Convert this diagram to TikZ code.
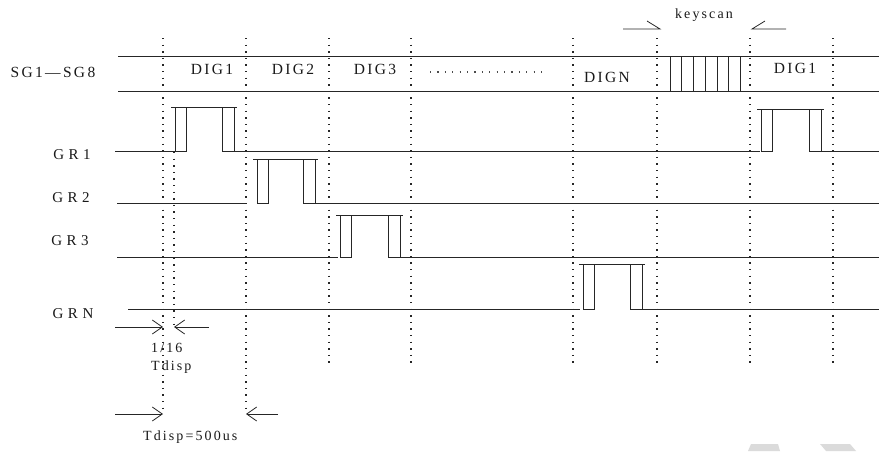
\documentclass[tikz,border=0pt]{standalone}
\usepackage{fontspec}
\setmainfont{Liberation Serif}
\usetikzlibrary{arrows.meta}
\tikzset{
  sig/.style={line width=0.9pt, draw=black!85},
  grid/.style={line width=1.4pt, draw=black!85, dash pattern=on 1.4pt off 5.2pt},
  lbl/.style={font=\fontsize{15.5}{18}\selectfont\addfontfeature{LetterSpace=15}, inner sep=0pt, text=black!90},
  grl/.style={font=\fontsize{15}{18}\selectfont\addfontfeature{LetterSpace=30}, inner sep=0pt, text=black!90},
  small/.style={font=\fontsize{14}{16}\selectfont\addfontfeature{LetterSpace=15}, inner sep=0pt, text=black!90},
  dimarrow/.style={line width=0.8pt, draw=black!85, -{Straight Barb[length=10pt,width=14pt,line width=0.8pt]}},
  half/.style={line width=0.8pt, draw=black!85},
  wm/.style={fill=black!14, draw=none}
}
\newcommand\pulsebox[4]{%
  \draw[sig] (#1-4,#3) -- (#2+3,#3);
  \draw[sig] (#1,#3) rectangle (#1+11,#4);
  \draw[sig] (#2-12,#3) rectangle (#2,#4);
}
\begin{document}
\begin{tikzpicture}[x=1pt,y=-1pt]
\useasboundingbox (0,0) rectangle (881,451);
% vertical dotted grid
\foreach \xx in {329,411,573,657,750,833} \draw[grid] (\xx,38) -- (\xx,366);
\draw[grid] (163,38) -- (163,413);
\draw[grid] (246,38) -- (246,413);
\draw[grid] (174,152) -- (174,327);
% SG bus
\draw[sig] (118,56) -- (879,56);
\draw[sig] (118,91) -- (879,91);
\foreach \xx in {670,681,693,705,717,728,740} \draw[sig] (\xx,56) -- (\xx,91);
\node[lbl] (sg) at (53,72) {SG1—SG8};
\node[lbl] (d1) at (212,69) {DIG1};
\node[lbl] (d2) at (293,69) {DIG2};
\node[lbl] (d3) at (375,69) {DIG3};
\coordinate (dotsA) at (430,72);
\coordinate (dotsB) at (542,72);
\draw[line width=1.1pt, draw=black!70, dash pattern=on 1.1pt off 6.3pt] (dotsA) -- (dotsB);
\node[lbl] (dn) at (607,77) {DIGN};
\node[lbl] (d1b) at (795,68) {DIG1};
% keyscan
\node[small] (ks) at (704,15) {keyscan};
\coordinate (ksl0) at (623,29); \coordinate (ksl1) at (660,29); \coordinate (ksl2) at (647,21);
\coordinate (ksr0) at (786,29); \coordinate (ksr1) at (752,29); \coordinate (ksr2) at (765,21);
\draw[half] (ksl0) -- (ksl1) -- (ksl2);
\draw[half] (ksr0) -- (ksr1) -- (ksr2);
% GR1
\node[grl] (g1) at (72,155) {GR1};
\draw[sig] (115,151) -- (175,151);
\draw[sig] (234,151) -- (760,151);
\draw[sig] (821,151) -- (879,151);
\pulsebox{175}{234}{107}{151}
\pulsebox{761}{821}{109}{151}
% GR2
\node[grl] (g2) at (71,198) {GR2};
\draw[sig] (117,203) -- (245,203);
\draw[sig] (315,203) -- (879,203);
\pulsebox{257}{315}{159}{203}
% GR3
\node[grl] (g3) at (70,241) {GR3};
\draw[sig] (117,257) -- (338,257);
\draw[sig] (400,257) -- (879,257);
\pulsebox{340}{400}{215}{257}
% GRN
\node[grl] (gn) at (73,314) {GRN};
\draw[sig] (128,309) -- (580,309);
\draw[sig] (642,309) -- (879,309);
\pulsebox{583}{642}{264}{309}
% 1/16 Tdisp
\coordinate (a1s) at (115,327); \coordinate (a1e) at (163,327);
\coordinate (a2s) at (209,327); \coordinate (a2e) at (174,327);
\draw[dimarrow] (a1s) -- (a1e);
\draw[dimarrow] (a2s) -- (a2e);
\node[small, anchor=west] (frac) at (151,348) {1/16};
\node[small, anchor=west] (td) at (151,367) {Tdisp};
% Tdisp = 500us
\coordinate (b1s) at (115,414); \coordinate (b1e) at (163,414);
\coordinate (b2s) at (278,414); \coordinate (b2e) at (246,414);
\draw[dimarrow] (b1s) -- (b1e);
\draw[dimarrow] (b2s) -- (b2e);
\node[small, anchor=west] (tdd) at (143,437) {Tdisp=500us};
% watermark fragments
\fill[wm] (751,444) -- (778,444) -- (780,451) -- (748,451) -- cycle;
\fill[wm] (820,444) -- (850,444) -- (856,451) -- (826,451) -- cycle;
\end{tikzpicture}
\end{document}
